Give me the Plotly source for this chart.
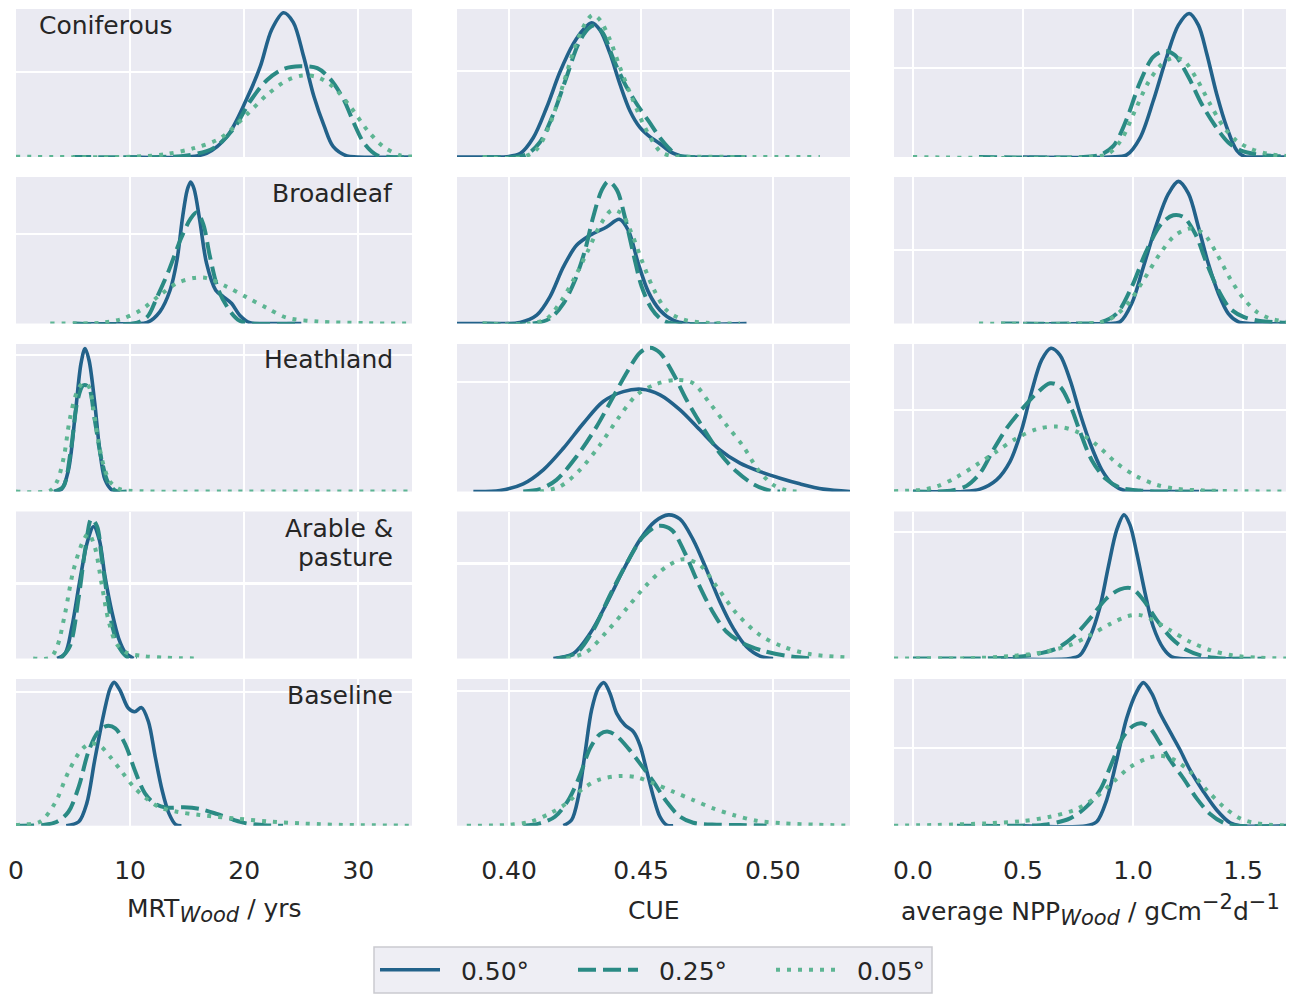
import plotly.graph_objects as go

# ---------------- data (KDE densities, scaled per panel) ----------------
RESOLUTIONS = ["0.50°", "0.25°", "0.05°"]
LAND_COVERS = ["Coniferous", "Broadleaf", "Heathland", "Arable &", "pasture", "Baseline"]

MRT_TICKS = [0, 10, 20, 30]
MRT_TICKTEXT = ["0", "10", "20", "30"]
CUE_TICKS = [0.40, 0.45, 0.50]
CUE_TICKTEXT = ["0.40", "0.45", "0.50"]
NPP_TICKS = [0.0, 0.5, 1.0, 1.5]
NPP_TICKTEXT = ["0.0", "0.5", "1.0", "1.5"]

MRT_RANGE = [0, 34.7]
CUE_RANGE = [0.3803, 0.5292]
NPP_RANGE = [-0.086, 1.695]

# y grid value for each panel (row-major: MRT, CUE, NPP)
Y_GRID = [0.574, 0.583, 0.599,
          0.612, None, 0.503,
          0.925, 0.745, 0.553,
          0.51, 0.646, 0.861,
          0.909, 0.92, 0.528]

# ---- MRT Coniferous
mrt_conif_050_x = [10, 15.0, 16.7, 18.5, 20.2, 21.4, 22.4, 23.45, 24.3, 25.2, 26.1, 27.0, 27.8, 29.0, 29.9, 34.7]
mrt_conif_050_y = [0, 0, 0.025, 0.14, 0.39, 0.61, 0.86, 0.975, 0.91, 0.68, 0.41, 0.21, 0.07, 0.007, 0, 0]
mrt_conif_025_x = [5, 12.6, 15.0, 17.3, 19.1, 20.5, 22.0, 23.45, 24.9, 26.4, 27.5, 28.7, 29.6, 30.5, 31.6, 32.8, 34.7]
mrt_conif_025_y = [0, 0, 0.01, 0.06, 0.195, 0.375, 0.52, 0.595, 0.613, 0.60, 0.53, 0.39, 0.23, 0.093, 0.014, 0, 0]
mrt_conif_005_x = [0, 10.3, 13.2, 15.6, 17.9, 20.2, 22.0, 23.7, 25.1, 26.4, 27.8, 29.3, 30.8, 32.2, 33.7, 34.7]
mrt_conif_005_y = [0.002, 0.002, 0.02, 0.06, 0.127, 0.285, 0.42, 0.516, 0.55, 0.54, 0.473, 0.34, 0.18, 0.07, 0.011, 0.003]

# ---- MRT Broadleaf
mrt_broad_050_x = [5, 10.3, 11.5, 12.6, 13.5, 14.1, 14.6, 15.0, 15.3, 15.6, 16.1, 16.7, 17.5, 18.2, 18.9, 19.6, 20.5, 21.4, 25]
mrt_broad_050_y = [0, 0, 0.007, 0.08, 0.227, 0.43, 0.727, 0.91, 0.966, 0.92, 0.705, 0.41, 0.227, 0.18, 0.136, 0.057, 0.005, 0, 0]
mrt_broad_025_x = [5, 10.3, 11.5, 12.3, 13.4, 14.4, 15.3, 15.85, 16.4, 17.0, 17.75, 18.8, 19.6, 20.5, 25]
mrt_broad_025_y = [0, 0, 0.045, 0.17, 0.364, 0.57, 0.716, 0.76, 0.68, 0.455, 0.227, 0.08, 0.018, 0, 0]
mrt_broad_005_x = [3.0, 7.4, 9.1, 10.9, 12.6, 14.1, 15.55, 16.7, 18.5, 20.2, 22.0, 23.7, 26.4, 30.8, 34.7]
mrt_broad_005_y = [0, 0.005, 0.027, 0.09, 0.193, 0.275, 0.31, 0.31, 0.25, 0.18, 0.105, 0.04, 0.014, 0.002, 0]

# ---- MRT Heathland
mrt_heath_050_x = [3.3, 4.0, 4.6, 5.2, 5.7, 6.05, 6.4, 6.9, 7.3, 7.8, 8.4, 9.1]
mrt_heath_050_y = [0, 0.016, 0.147, 0.53, 0.87, 0.97, 0.89, 0.6, 0.305, 0.08, 0.011, 0]
mrt_heath_025_x = [3.4, 4.15, 4.8, 5.4, 5.9, 6.35, 6.9, 7.5, 8.1, 8.8, 9.7]
mrt_heath_025_y = [0, 0.034, 0.28, 0.62, 0.72, 0.71, 0.485, 0.214, 0.056, 0.002, 0]
mrt_heath_005_x = [0, 3.0, 3.6, 4.2, 4.7, 5.3, 5.85, 6.35, 6.8, 7.2, 7.7, 8.3, 9.1, 10.9, 19, 34.7]
mrt_heath_005_y = [0, 0.007, 0.068, 0.237, 0.485, 0.666, 0.734, 0.716, 0.553, 0.35, 0.17, 0.061, 0.016, 0.002, 0, 0]

# ---- MRT Arable & pasture
mrt_arable_050_x = [3.6, 4.3, 4.9, 5.6, 6.26, 6.8, 7.3, 7.8, 8.4, 9.0, 9.6, 10.3]
mrt_arable_050_y = [0, 0.034, 0.216, 0.534, 0.795, 0.898, 0.807, 0.557, 0.318, 0.136, 0.039, 0]
mrt_arable_025_x = [3.9, 4.7, 5.5, 6.1, 6.6, 7.1, 7.5, 8.0, 8.5, 9.1, 9.85, 10.6]
mrt_arable_025_y = [0, 0.08, 0.42, 0.76, 0.95, 0.9, 0.69, 0.42, 0.2, 0.068, 0.005, 0]
mrt_arable_005_x = [1.5, 3.0, 3.6, 4.3, 5.0, 5.8, 6.35, 6.9, 7.5, 8.1, 8.8, 9.7, 11.2, 13.2, 16.1]
mrt_arable_005_y = [0, 0.005, 0.08, 0.307, 0.59, 0.784, 0.85, 0.76, 0.51, 0.26, 0.1, 0.039, 0.016, 0.005, 0]

# ---- MRT Baseline
mrt_base_050_x = [4.4, 5.5, 6.2, 6.9, 7.7, 8.25, 8.6, 9.1, 9.85, 10.4, 11.0, 11.6, 12.2, 12.8, 13.4, 14.0, 14.5]
mrt_base_050_y = [0, 0.027, 0.152, 0.448, 0.766, 0.936, 0.977, 0.925, 0.8, 0.777, 0.805, 0.71, 0.47, 0.243, 0.084, 0.007, 0]
mrt_base_025_x = [0, 2.4, 3.6, 4.6, 5.5, 6.35, 7.2, 7.95, 8.7, 9.6, 10.4, 11.3, 12.2, 13.2, 14.7, 16.1, 17.6, 19.1, 20.2, 22.0, 23.4]
mrt_base_025_y = [0, 0.005, 0.027, 0.095, 0.266, 0.505, 0.64, 0.68, 0.664, 0.55, 0.38, 0.22, 0.148, 0.123, 0.125, 0.114, 0.08, 0.039, 0.016, 0.002, 0]
mrt_base_005_x = [0, 0.35, 2.1, 3.4, 4.6, 5.76, 6.55, 7.37, 8.25, 9.27, 10.3, 11.5, 12.6, 14.1, 16.1, 19.1, 22.0, 24.9, 27.8, 34.7]
mrt_base_005_y = [0.005, 0.007, 0.027, 0.152, 0.368, 0.52, 0.561, 0.543, 0.47, 0.368, 0.266, 0.18, 0.125, 0.095, 0.073, 0.05, 0.03, 0.016, 0.007, 0]

# ---- CUE Coniferous
cue_conif_050_x = [0.3803, 0.3941, 0.3991, 0.4042, 0.4092, 0.4143, 0.4193, 0.4244, 0.4282, 0.4313, 0.4345, 0.4383, 0.442, 0.4458, 0.4496, 0.4534, 0.4572, 0.461, 0.4648, 0.4698, 0.49]
cue_conif_050_y = [0, 0, 0.002, 0.023, 0.13, 0.336, 0.574, 0.766, 0.862, 0.907, 0.857, 0.698, 0.494, 0.313, 0.2, 0.136, 0.09, 0.036, 0.009, 0, 0]
cue_conif_025_x = [0.39, 0.4016, 0.4067, 0.4117, 0.4168, 0.4218, 0.4263, 0.4301, 0.4326, 0.4357, 0.4395, 0.4439, 0.4484, 0.4528, 0.4572, 0.461, 0.4641, 0.4686, 0.49]
cue_conif_025_y = [0, 0, 0.018, 0.1, 0.29, 0.54, 0.766, 0.868, 0.89, 0.834, 0.664, 0.494, 0.358, 0.245, 0.13, 0.052, 0.009, 0, 0]
cue_conif_005_x = [0.39, 0.4054, 0.4105, 0.4155, 0.4206, 0.425, 0.4288, 0.4317, 0.4345, 0.4383, 0.442, 0.4465, 0.4509, 0.4547, 0.4578, 0.4622, 0.4698, 0.5178]
cue_conif_005_y = [0, 0, 0.052, 0.222, 0.494, 0.744, 0.9, 0.96, 0.925, 0.79, 0.608, 0.404, 0.222, 0.098, 0.03, 0.005, 0.002, 0]

# ---- CUE Broadleaf
cue_broad_050_x = [0.3803, 0.3966, 0.4042, 0.4105, 0.4155, 0.4206, 0.4256, 0.4307, 0.437, 0.4418, 0.4452, 0.449, 0.4528, 0.4572, 0.4622, 0.4673, 0.49]
cue_broad_050_y = [0, 0, 0.007, 0.057, 0.182, 0.386, 0.534, 0.602, 0.659, 0.711, 0.636, 0.409, 0.216, 0.091, 0.023, 0, 0]
cue_broad_025_x = [0.39, 0.4092, 0.4155, 0.4206, 0.425, 0.4288, 0.4319, 0.4351, 0.4376, 0.4408, 0.4439, 0.4471, 0.4503, 0.454, 0.4578, 0.4622, 0.48]
cue_broad_025_y = [0, 0, 0.034, 0.136, 0.295, 0.5, 0.727, 0.909, 0.97, 0.914, 0.727, 0.477, 0.25, 0.102, 0.027, 0, 0]
cue_broad_005_x = [0.39, 0.408, 0.4143, 0.42, 0.425, 0.43, 0.4345, 0.4389, 0.4427, 0.4465, 0.4503, 0.4547, 0.4597, 0.466, 0.4749, 0.4875]
cue_broad_005_y = [0, 0, 0.034, 0.16, 0.318, 0.5, 0.67, 0.773, 0.75, 0.614, 0.432, 0.239, 0.091, 0.027, 0.005, 0]

# ---- CUE Heathland
cue_heath_050_x = [0.3865, 0.3966, 0.4054, 0.413, 0.4206, 0.4282, 0.4357, 0.4433, 0.4503, 0.4572, 0.4648, 0.4723, 0.4799, 0.4875, 0.4951, 0.5027, 0.5102, 0.5191, 0.5292]
cue_heath_050_y = [0, 0.007, 0.052, 0.147, 0.293, 0.463, 0.61, 0.677, 0.693, 0.655, 0.553, 0.418, 0.282, 0.192, 0.135, 0.09, 0.052, 0.016, 0]
cue_heath_025_x = [0.4054, 0.4117, 0.418, 0.4256, 0.4332, 0.4395, 0.4452, 0.4496, 0.4534, 0.4572, 0.4622, 0.4673, 0.4736, 0.4799, 0.4862, 0.4926, 0.4989, 0.5027]
cue_heath_025_y = [0, 0.016, 0.079, 0.237, 0.44, 0.643, 0.824, 0.941, 0.975, 0.941, 0.8, 0.62, 0.43, 0.26, 0.135, 0.05, 0.005, 0]
cue_heath_005_x = [0.4117, 0.4193, 0.4269, 0.4345, 0.4414, 0.4484, 0.4559, 0.4635, 0.4698, 0.4761, 0.4824, 0.4888, 0.4944, 0.5001, 0.5052, 0.5102]
cue_heath_005_y = [0, 0.034, 0.147, 0.316, 0.497, 0.655, 0.729, 0.756, 0.734, 0.598, 0.45, 0.305, 0.147, 0.045, 0.007, 0]

# ---- CUE Arable & pasture
cue_arable_050_x = [0.4168, 0.4244, 0.4307, 0.437, 0.4433, 0.4496, 0.4553, 0.4604, 0.4648, 0.4698, 0.4749, 0.4799, 0.485, 0.49, 0.4951, 0.5001]
cue_arable_050_y = [0, 0.034, 0.17, 0.375, 0.602, 0.807, 0.932, 0.977, 0.948, 0.807, 0.602, 0.386, 0.205, 0.08, 0.016, 0]
cue_arable_025_x = [0.418, 0.4256, 0.4319, 0.4383, 0.4446, 0.4509, 0.4566, 0.4616, 0.4667, 0.4717, 0.4768, 0.4824, 0.4888, 0.4963, 0.5052, 0.5153]
cue_arable_025_y = [0, 0.039, 0.193, 0.432, 0.648, 0.83, 0.902, 0.875, 0.716, 0.511, 0.33, 0.182, 0.102, 0.052, 0.018, 0]
cue_arable_005_x = [0.4218, 0.4294, 0.437, 0.4446, 0.4521, 0.4597, 0.466, 0.4723, 0.4787, 0.4862, 0.4951, 0.5039, 0.514, 0.5292]
cue_arable_005_y = [0, 0.045, 0.182, 0.341, 0.5, 0.625, 0.675, 0.636, 0.489, 0.307, 0.159, 0.08, 0.03, 0.007]

# ---- CUE Baseline
cue_base_050_x = [0.4206, 0.4237, 0.4263, 0.4288, 0.4313, 0.4338, 0.436, 0.4383, 0.4408, 0.4439, 0.4471, 0.4496, 0.4521, 0.4547, 0.4572, 0.4597, 0.4622]
cue_base_050_y = [0, 0.039, 0.198, 0.493, 0.789, 0.936, 0.975, 0.9, 0.766, 0.686, 0.641, 0.55, 0.38, 0.198, 0.061, 0.005, 0]
cue_base_025_x = [0.4054, 0.4117, 0.4174, 0.4225, 0.4269, 0.4307, 0.4345, 0.4376, 0.4408, 0.4452, 0.4496, 0.4547, 0.4597, 0.4648, 0.4698, 0.4787, 0.4875, 0.4976]
cue_base_025_y = [0, 0.016, 0.061, 0.175, 0.345, 0.527, 0.625, 0.641, 0.611, 0.527, 0.425, 0.3, 0.164, 0.061, 0.02, 0.007, 0.005, 0]
cue_base_005_x = [0.384, 0.3991, 0.408, 0.4155, 0.4218, 0.4282, 0.4345, 0.442, 0.4484, 0.4547, 0.4622, 0.4698, 0.4774, 0.485, 0.4938, 0.5039, 0.5165, 0.5292]
cue_base_005_y = [0, 0.005, 0.027, 0.084, 0.152, 0.255, 0.316, 0.339, 0.33, 0.289, 0.232, 0.175, 0.118, 0.073, 0.034, 0.016, 0.007, 0]

# ---- NPP Coniferous
npp_conif_050_x = [0.5, 0.895, 0.971, 1.032, 1.092, 1.153, 1.206, 1.255, 1.297, 1.335, 1.38, 1.426, 1.471, 1.509, 1.547, 1.7]
npp_conif_050_y = [0, 0, 0.014, 0.13, 0.38, 0.676, 0.891, 0.97, 0.891, 0.698, 0.426, 0.2, 0.045, 0.002, 0, 0]
npp_conif_025_x = [0.3, 0.774, 0.85, 0.911, 0.971, 1.032, 1.092, 1.145, 1.191, 1.252, 1.312, 1.373, 1.433, 1.494, 1.562, 1.638, 1.709]
npp_conif_025_y = [0, 0, 0.014, 0.075, 0.256, 0.506, 0.676, 0.717, 0.687, 0.54, 0.358, 0.211, 0.098, 0.041, 0.018, 0.007, 0.005]
npp_conif_005_x = [0.0, 0.805, 0.888, 0.948, 1.009, 1.07, 1.13, 1.183, 1.229, 1.289, 1.35, 1.411, 1.471, 1.532, 1.608, 1.709]
npp_conif_005_y = [0, 0, 0.023, 0.12, 0.313, 0.506, 0.626, 0.671, 0.653, 0.528, 0.358, 0.204, 0.109, 0.057, 0.023, 0.005]

# ---- NPP Broadleaf
npp_broad_050_x = [0.5, 0.865, 0.941, 0.994, 1.047, 1.108, 1.161, 1.206, 1.252, 1.297, 1.342, 1.388, 1.433, 1.479, 1.532, 1.7]
npp_broad_050_y = [0, 0, 0.011, 0.136, 0.386, 0.682, 0.886, 0.97, 0.886, 0.659, 0.409, 0.205, 0.068, 0.011, 0, 0]
npp_broad_025_x = [0.4, 0.744, 0.85, 0.926, 0.994, 1.062, 1.13, 1.183, 1.229, 1.282, 1.335, 1.388, 1.441, 1.502, 1.577, 1.709]
npp_broad_025_y = [0, 0, 0.007, 0.068, 0.25, 0.5, 0.682, 0.739, 0.727, 0.614, 0.409, 0.227, 0.102, 0.045, 0.018, 0.005]
npp_broad_005_x = [0.3, 0.774, 0.88, 0.971, 1.047, 1.123, 1.191, 1.259, 1.32, 1.38, 1.441, 1.502, 1.562, 1.623, 1.709]
npp_broad_005_y = [0, 0, 0.018, 0.125, 0.295, 0.477, 0.602, 0.648, 0.614, 0.477, 0.307, 0.17, 0.08, 0.034, 0.009]

# ---- NPP Heathland
npp_heath_050_x = [0.0, 0.229, 0.305, 0.38, 0.441, 0.494, 0.539, 0.585, 0.627, 0.668, 0.714, 0.759, 0.805, 0.858, 0.911, 0.971, 1.017, 1.3]
npp_heath_050_y = [0, 0, 0.016, 0.079, 0.203, 0.418, 0.677, 0.892, 0.971, 0.925, 0.756, 0.53, 0.327, 0.147, 0.045, 0.002, 0, 0]
npp_heath_025_x = [0.0, 0.108, 0.183, 0.244, 0.305, 0.365, 0.426, 0.486, 0.555, 0.623, 0.668, 0.714, 0.759, 0.812, 0.873, 0.941, 1.032, 1.123, 1.4]
npp_heath_025_y = [0, 0, 0.009, 0.038, 0.124, 0.282, 0.429, 0.542, 0.655, 0.734, 0.711, 0.587, 0.406, 0.214, 0.09, 0.027, 0.007, 0, 0]
npp_heath_005_x = [-0.086, 0.032, 0.108, 0.198, 0.289, 0.38, 0.471, 0.562, 0.653, 0.744, 0.835, 0.926, 1.017, 1.108, 1.198, 1.32, 1.471, 1.709]
npp_heath_005_y = [0.002, 0.011, 0.034, 0.097, 0.181, 0.271, 0.361, 0.422, 0.44, 0.406, 0.316, 0.192, 0.102, 0.045, 0.018, 0.007, 0.002, 0]

# ---- NPP Arable & pasture
npp_arable_050_x = [0.4, 0.714, 0.759, 0.805, 0.85, 0.888, 0.926, 0.959, 0.986, 1.017, 1.055, 1.092, 1.138, 1.176, 1.214, 1.5]
npp_arable_050_y = [0, 0, 0.023, 0.148, 0.352, 0.625, 0.875, 0.977, 0.909, 0.716, 0.443, 0.216, 0.068, 0.011, 0, 0]
npp_arable_025_x = [0.0, 0.259, 0.441, 0.562, 0.653, 0.729, 0.805, 0.88, 0.941, 0.994, 1.047, 1.108, 1.176, 1.244, 1.32, 1.411, 1.6]
npp_arable_025_y = [0, 0, 0.007, 0.03, 0.068, 0.148, 0.273, 0.409, 0.47, 0.477, 0.398, 0.261, 0.136, 0.057, 0.016, 0, 0]
npp_arable_005_x = [-0.086, 0.259, 0.441, 0.592, 0.714, 0.805, 0.895, 0.979, 1.032, 1.092, 1.168, 1.259, 1.35, 1.456, 1.577, 1.709]
npp_arable_005_y = [0, 0.002, 0.016, 0.043, 0.091, 0.159, 0.234, 0.289, 0.295, 0.261, 0.193, 0.114, 0.057, 0.02, 0.005, 0]

# ---- NPP Baseline
npp_base_050_x = [0.5, 0.789, 0.835, 0.88, 0.926, 0.971, 1.017, 1.047, 1.085, 1.123, 1.168, 1.214, 1.259, 1.32, 1.38, 1.441, 1.486, 1.7]
npp_base_050_y = [0, 0, 0.027, 0.175, 0.448, 0.732, 0.914, 0.975, 0.902, 0.766, 0.641, 0.516, 0.38, 0.232, 0.107, 0.02, 0, 0]
npp_base_025_x = [0.2, 0.486, 0.608, 0.714, 0.789, 0.85, 0.903, 0.956, 1.002, 1.039, 1.077, 1.123, 1.168, 1.229, 1.289, 1.35, 1.411, 1.471, 1.7]
npp_base_025_y = [0, 0, 0.009, 0.05, 0.13, 0.243, 0.425, 0.607, 0.682, 0.698, 0.664, 0.561, 0.448, 0.323, 0.186, 0.08, 0.02, 0, 0]
npp_base_005_x = [-0.086, 0.108, 0.335, 0.486, 0.623, 0.744, 0.835, 0.911, 0.986, 1.062, 1.123, 1.183, 1.259, 1.335, 1.411, 1.486, 1.562, 1.709]
npp_base_005_y = [0, 0.005, 0.016, 0.03, 0.061, 0.114, 0.198, 0.3, 0.398, 0.457, 0.477, 0.452, 0.368, 0.243, 0.13, 0.05, 0.016, 0]

# panel table built from the named lists (row-major)
PANELS = [
    [(mrt_conif_050_x, mrt_conif_050_y), (mrt_conif_025_x, mrt_conif_025_y), (mrt_conif_005_x, mrt_conif_005_y)],
    [(cue_conif_050_x, cue_conif_050_y), (cue_conif_025_x, cue_conif_025_y), (cue_conif_005_x, cue_conif_005_y)],
    [(npp_conif_050_x, npp_conif_050_y), (npp_conif_025_x, npp_conif_025_y), (npp_conif_005_x, npp_conif_005_y)],
    [(mrt_broad_050_x, mrt_broad_050_y), (mrt_broad_025_x, mrt_broad_025_y), (mrt_broad_005_x, mrt_broad_005_y)],
    [(cue_broad_050_x, cue_broad_050_y), (cue_broad_025_x, cue_broad_025_y), (cue_broad_005_x, cue_broad_005_y)],
    [(npp_broad_050_x, npp_broad_050_y), (npp_broad_025_x, npp_broad_025_y), (npp_broad_005_x, npp_broad_005_y)],
    [(mrt_heath_050_x, mrt_heath_050_y), (mrt_heath_025_x, mrt_heath_025_y), (mrt_heath_005_x, mrt_heath_005_y)],
    [(cue_heath_050_x, cue_heath_050_y), (cue_heath_025_x, cue_heath_025_y), (cue_heath_005_x, cue_heath_005_y)],
    [(npp_heath_050_x, npp_heath_050_y), (npp_heath_025_x, npp_heath_025_y), (npp_heath_005_x, npp_heath_005_y)],
    [(mrt_arable_050_x, mrt_arable_050_y), (mrt_arable_025_x, mrt_arable_025_y), (mrt_arable_005_x, mrt_arable_005_y)],
    [(cue_arable_050_x, cue_arable_050_y), (cue_arable_025_x, cue_arable_025_y), (cue_arable_005_x, cue_arable_005_y)],
    [(npp_arable_050_x, npp_arable_050_y), (npp_arable_025_x, npp_arable_025_y), (npp_arable_005_x, npp_arable_005_y)],
    [(mrt_base_050_x, mrt_base_050_y), (mrt_base_025_x, mrt_base_025_y), (mrt_base_005_x, mrt_base_005_y)],
    [(cue_base_050_x, cue_base_050_y), (cue_base_025_x, cue_base_025_y), (cue_base_005_x, cue_base_005_y)],
    [(npp_base_050_x, npp_base_050_y), (npp_base_025_x, npp_base_025_y), (npp_base_005_x, npp_base_005_y)],
]

# ---------------- styling / layout ----------------
W, H = 1289, 994
FONT = "DejaVu Sans"
TXT = "#262626"
BG = "#eaeaf2"
LINE_STYLES = [
    dict(color="#22628a", width=3.6, dash="solid"),
    dict(color="#2a8a84", width=4.0, dash="18px,7px"),
    dict(color="#5db593", width=4.0, dash="4px,7px"),
]
COL_PX = [(16, 412), (457, 850), (894, 1286)]
ROW_PX = [(9, 157), (177, 323.5), (344, 491.5), (511.5, 658.5), (679, 825.7)]
COL_AXIS = [(MRT_RANGE, MRT_TICKS, MRT_TICKTEXT),
            (CUE_RANGE, CUE_TICKS, CUE_TICKTEXT),
            (NPP_RANGE, NPP_TICKS, NPP_TICKTEXT)]

fig = go.Figure()
layout = dict(
    template="none",
    width=W, height=H, autosize=False,
    margin=dict(l=0, r=0, t=0, b=0, pad=0),
    paper_bgcolor="white",
    plot_bgcolor=BG,
    font=dict(family=FONT, size=25, color=TXT),
    showlegend=True,
)

for k in range(15):
    r, c = divmod(k, 3)
    ax = "" if k == 0 else str(k + 1)
    rng, tv, tt = COL_AXIS[c]
    x0, x1 = COL_PX[c]
    t0, b0 = ROW_PX[r]
    bottom = (r == 4)
    layout["xaxis" + ax] = dict(
        domain=[x0 / W, x1 / W], range=rng, anchor="y" + ax,
        tickmode="array", tickvals=tv, ticktext=tt, showticklabels=bottom,
        ticks="outside" if bottom else "", ticklen=22, tickwidth=1,
        tickcolor="rgba(0,0,0,0)",
        tickfont=dict(size=25, color=TXT, family=FONT),
        showgrid=True, gridcolor="white", gridwidth=2.2,
        zeroline=False, showline=False, fixedrange=True, automargin=False,
    )
    g = Y_GRID[k]
    layout["yaxis" + ax] = dict(
        domain=[1 - b0 / H, 1 - t0 / H], range=[0, 1], anchor="x" + ax,
        tickmode="array", tickvals=[g] if g is not None else [], showticklabels=False,
        ticks="",
        showgrid=True, gridcolor="white", gridwidth=2.2,
        zeroline=False, showline=False, fixedrange=True, automargin=False,
    )
    for i, (xs, ys) in enumerate(PANELS[k]):
        st = LINE_STYLES[i]
        fig.add_trace(go.Scatter(
            x=xs, y=ys, mode="lines",
            line=dict(color=st["color"], width=st["width"], dash=st["dash"],
                      shape="spline", smoothing=0.9),
            name="\u00a0\u00a0" + RESOLUTIONS[i], legendgroup=RESOLUTIONS[i],
            showlegend=(k == 0),
            xaxis="x" + ax, yaxis="y" + ax, hoverinfo="skip",
        ))

annotations = []
# land-cover labels inside MRT column
label_pos = [(37, 25, "left"), (395, 193, "right"), (395, 360, "right"),
             (395, 528, "right"), (395, 557, "right"), (395, 695, "right")]
for name, (px, py, al) in zip(LAND_COVERS, label_pos):
    annotations.append(dict(
        text=name, x=px / W, y=1 - py / H, xref="paper", yref="paper",
        xanchor=al, yanchor="middle", align=al, showarrow=False,
        font=dict(size=25, color=TXT, family=FONT),
    ))

# axis titles
SUB = "<sub><i><span style='font-size:21px'>Wood</span></i></sub>"
titles = ["MRT" + SUB + " / yrs", "CUE",
          "average NPP" + SUB + " / gCm<sup><span style='font-size:21px'>−2</span></sup>"
          "d<sup><span style='font-size:21px'>−1</span></sup>"]
for c, t in enumerate(titles):
    x0, x1 = COL_PX[c]
    annotations.append(dict(
        text=t, x=(x0 + x1) / 2 / W, y=1 - 910 / H, xref="paper", yref="paper",
        xanchor="center", yanchor="middle", showarrow=False,
        font=dict(size=25, color=TXT, family=FONT),
    ))
layout["annotations"] = annotations

# legend frame drawn as a paper shape
layout["shapes"] = [dict(
    type="rect", xref="paper", yref="paper", layer="below",
    x0=374 / W, x1=932 / W, y0=1 - 993 / H, y1=1 - 947 / H,
    fillcolor="#eeeef4", line=dict(color="#cacad0", width=1.5),
)]
layout["legend"] = dict(
    orientation="h", x=375 / W, xanchor="left", y=1 - 970 / H, yanchor="middle",
    bgcolor="rgba(0,0,0,0)", borderwidth=0,
    font=dict(size=25, color=TXT, family=FONT),
    itemwidth=60, entrywidth=123, entrywidthmode="pixels",
    tracegroupgap=0,
)
fig.update_layout(**layout)
fig.write_html(
    "out.html",
    config={"displayModeBar": False, "staticPlot": True},
    post_script="document.body.style.margin='0';document.body.style.overflow='hidden';",
)
